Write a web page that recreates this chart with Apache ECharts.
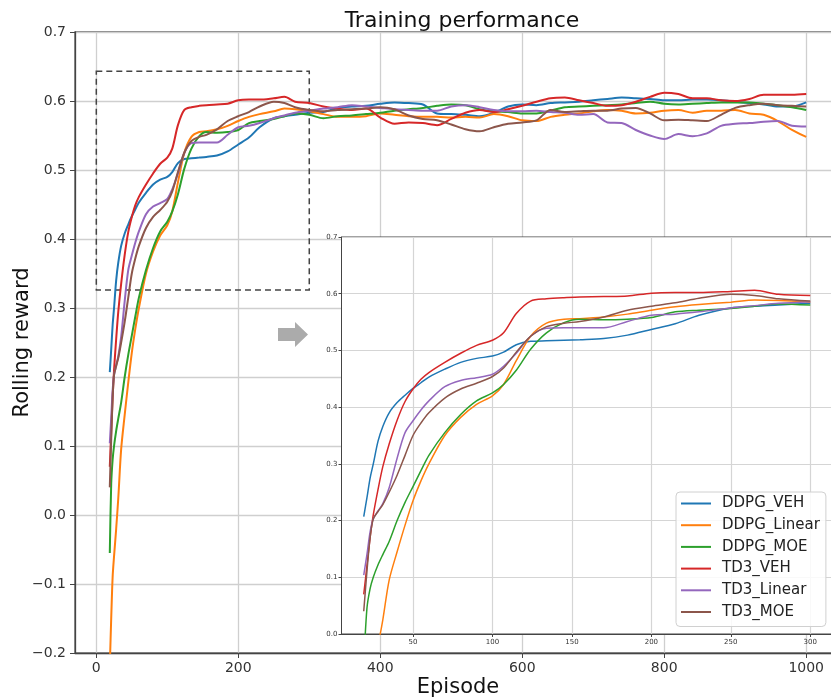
<!DOCTYPE html>
<html>
<head>
<meta charset="utf-8">
<title>Training performance</title>
<script src="https://cdn.jsdelivr.net/npm/echarts@6/dist/echarts.min.js"></script>
<style>
  html, body { margin: 0; padding: 0; background: #fff; }
  #chart { width: 831px; height: 700px; }
</style>
</head>
<body>
<div id="chart"></div>
<script>
const EPISODES = [19, 21, 23, 25, 28, 31, 35, 40, 45, 50,
  55, 60, 70, 80, 90, 100, 107, 115, 124, 134,
  145, 155, 170, 185, 200, 215, 230, 250, 265, 280,
  300, 320, 340, 360, 380, 400, 420, 440, 460, 480,
  500, 520, 540, 560, 580, 600, 620, 640, 660, 680,
  700, 720, 740, 760, 780, 800, 820, 840, 860, 880,
  900, 920, 940, 960, 980, 1000]

const DDPG_VEH = [0.207, 0.24, 0.275, 0.30, 0.34, 0.366, 0.39, 0.408, 0.421, 0.433,
  0.443, 0.453, 0.467, 0.479, 0.486, 0.49, 0.497, 0.51, 0.516, 0.517,
  0.518, 0.519, 0.521, 0.527, 0.537, 0.547, 0.562, 0.575, 0.578, 0.58,
  0.583, 0.584, 0.59, 0.592, 0.593, 0.596, 0.598, 0.597, 0.595, 0.582,
  0.581, 0.58, 0.578, 0.583, 0.592, 0.595, 0.594, 0.597, 0.598, 0.599,
  0.601, 0.603, 0.605, 0.604, 0.603, 0.601, 0.601, 0.602, 0.602, 0.601,
  0.599, 0.597, 0.595, 0.592, 0.592, 0.598]

const DDPG_LINEAR = [-0.22, -0.15, -0.09, -0.06, -0.02, 0.025, 0.095, 0.145, 0.192, 0.235,
  0.27, 0.3, 0.35, 0.382, 0.405, 0.42, 0.44, 0.482, 0.525, 0.548,
  0.555, 0.556, 0.559, 0.564, 0.571, 0.577, 0.581, 0.585, 0.589, 0.588,
  0.585, 0.581, 0.577, 0.577, 0.578, 0.582, 0.58, 0.578, 0.577, 0.577,
  0.576, 0.577, 0.576, 0.581, 0.578, 0.572, 0.571, 0.577, 0.58, 0.582,
  0.585, 0.587, 0.586, 0.582, 0.583, 0.586, 0.587, 0.583, 0.586, 0.586,
  0.587, 0.582, 0.58, 0.571, 0.558, 0.548]

const DDPG_MOE = [-0.055, 0.045, 0.08, 0.1, 0.122, 0.14, 0.163, 0.2, 0.232, 0.26,
  0.288, 0.315, 0.355, 0.387, 0.411, 0.425, 0.44, 0.465, 0.502, 0.531,
  0.549, 0.555, 0.554, 0.555, 0.558, 0.568, 0.571, 0.574, 0.578, 0.582,
  0.58, 0.575, 0.578, 0.579, 0.581, 0.583, 0.586, 0.588, 0.59, 0.593,
  0.595, 0.594, 0.588, 0.585, 0.584, 0.582, 0.582, 0.586, 0.591, 0.592,
  0.593, 0.594, 0.595, 0.597, 0.599, 0.596, 0.595, 0.596, 0.597, 0.598,
  0.598, 0.598, 0.596, 0.594, 0.591, 0.587]

const TD3_VEH = [0.07, 0.12, 0.17, 0.21, 0.255, 0.295, 0.335, 0.377, 0.41, 0.432,
  0.449, 0.461, 0.479, 0.495, 0.509, 0.518, 0.531, 0.565, 0.587, 0.591,
  0.593, 0.594, 0.595, 0.596, 0.601, 0.602, 0.602, 0.604, 0.606, 0.599,
  0.597, 0.592, 0.589, 0.587, 0.589, 0.576, 0.567, 0.569, 0.568, 0.565,
  0.574, 0.583, 0.587, 0.584, 0.588, 0.593, 0.599, 0.604, 0.605, 0.601,
  0.597, 0.593, 0.594, 0.599, 0.606, 0.612, 0.61, 0.604, 0.604, 0.601,
  0.6, 0.603, 0.609, 0.609, 0.609, 0.61]

const TD3_LINEAR = [0.104, 0.14, 0.18, 0.203, 0.217, 0.23, 0.258, 0.31, 0.355, 0.376,
  0.395, 0.411, 0.436, 0.447, 0.452, 0.458, 0.472, 0.495, 0.525, 0.539,
  0.54, 0.54, 0.54, 0.551, 0.562, 0.564, 0.568, 0.575, 0.579, 0.583,
  0.586, 0.589, 0.591, 0.594, 0.592, 0.59, 0.588, 0.587, 0.586, 0.586,
  0.592, 0.594, 0.591, 0.587, 0.585, 0.585, 0.586, 0.584, 0.583, 0.58,
  0.581, 0.569, 0.568, 0.558, 0.55, 0.545, 0.552, 0.549, 0.553, 0.564,
  0.567, 0.568, 0.57, 0.571, 0.564, 0.563]

const TD3_MOE = [0.04, 0.11, 0.17, 0.203, 0.216, 0.228, 0.25, 0.28, 0.315, 0.35,
  0.372, 0.39, 0.416, 0.432, 0.442, 0.454, 0.469, 0.497, 0.525, 0.542,
  0.548, 0.551, 0.559, 0.571, 0.578, 0.584, 0.592, 0.599, 0.597, 0.591,
  0.587, 0.585, 0.587, 0.588, 0.589, 0.591, 0.588, 0.579, 0.574, 0.572,
  0.566, 0.559, 0.556, 0.562, 0.567, 0.569, 0.572, 0.587, 0.584, 0.585,
  0.586, 0.586, 0.589, 0.59, 0.582, 0.572, 0.573, 0.572, 0.571, 0.58,
  0.59, 0.594, 0.596, 0.594, 0.593, 0.592]

const SERIES_NAMES = ['DDPG_VEH', 'DDPG_Linear', 'DDPG_MOE', 'TD3_VEH', 'TD3_Linear', 'TD3_MOE']
const SERIES_VALUES = [DDPG_VEH, DDPG_LINEAR, DDPG_MOE, TD3_VEH, TD3_LINEAR, TD3_MOE]
const COLORS = ['#1f77b4', '#ff7f0e', '#2ca02c', '#d62728', '#9467bd', '#8c564b']

const X_TICKS = [0, 200, 400, 600, 800, 1000]
const INSET_X_TICKS = [50, 100, 150, 200, 250, 300]
const INSET_LAST_EPISODE = 300
// dashed box marking the zoomed region (data units)
const ZOOM_BOX = { x0: 0, x1: 300, yTop: 0.643, yBottom: 0.326 }

const FONT = 'DejaVu Sans'
const fmt = v => v.toFixed(1).replace('-', '\u2212')

var chart = echarts.init(document.getElementById('chart'))

var series = []
SERIES_NAMES.forEach(function (name, i) {
  var pts = EPISODES.map((ep, k) => [ep, SERIES_VALUES[i][k]])
  var main = {
    name: name,
    type: 'line',
    xAxisIndex: 0,
    yAxisIndex: 0,
    data: pts,
    showSymbol: false,
    smooth: 0.3,
    z: 2,
    lineStyle: { width: 2, color: COLORS[i] },
    itemStyle: { color: COLORS[i] }
  }
  if (i === 0) {
    main.markArea = {
      silent: true,
      itemStyle: {
        color: 'rgba(0,0,0,0)',
        borderColor: '#444',
        borderWidth: 1.5,
        borderType: [6, 4]
      },
      data: [[
        { xAxis: ZOOM_BOX.x0, yAxis: ZOOM_BOX.yTop },
        { xAxis: ZOOM_BOX.x1, yAxis: ZOOM_BOX.yBottom }
      ]]
    }
  }
  series.push(main)
  series.push({
    name: name,
    type: 'line',
    xAxisIndex: 1,
    yAxisIndex: 1,
    data: pts.filter(p => p[0] <= INSET_LAST_EPISODE),
    showSymbol: false,
    smooth: 0.3,
    z: 8,
    lineStyle: { width: 1.5, color: COLORS[i] },
    itemStyle: { color: COLORS[i] }
  })
})

var option = {
  animation: false,
  textStyle: { fontFamily: FONT },
  title: {
    text: 'Training performance',
    left: 457,
    textAlign: 'center',
    top: 5,
    textStyle: { fontFamily: FONT, fontSize: 22, fontWeight: 'normal', color: '#111' }
  },
  grid: [
    {
      left: 75, top: 32, width: 766, height: 621, containLabel: false, outerBoundsMode: 'none',
      show: true, borderColor: '#555', borderWidth: 1.3, z: 0
    },
    {
      left: 341.5, top: 237, width: 491, height: 397, containLabel: false, outerBoundsMode: 'none',
      show: true, backgroundColor: '#fff', borderColor: '#444', borderWidth: 1, z: 5
    }
  ],
  xAxis: [
    {
      type: 'value', gridIndex: 0, min: -30, max: 1049,
      name: 'Episode', nameLocation: 'middle', nameGap: 24, nameMoveOverlap: false,
      nameTextStyle: { fontFamily: FONT, fontSize: 21, color: '#111' },
      axisLine: { show: true, onZero: false, lineStyle: { color: '#444', width: 1.3 } },
      axisTick: { show: true, customValues: X_TICKS, length: 5, lineStyle: { color: '#444' } },
      axisLabel: { customValues: X_TICKS, fontSize: 14, color: '#333', margin: 8, formatter: v => String(v) },
      splitLine: { show: true, lineStyle: { color: '#cfcfcf', width: 1.3 } }
    },
    {
      type: 'value', gridIndex: 1, min: 5, max: 314, z: 6,
      axisLine: { show: true, onZero: false, lineStyle: { color: '#444', width: 1 } },
      axisTick: { show: true, customValues: INSET_X_TICKS, length: 3, lineStyle: { color: '#444' } },
      axisLabel: { customValues: INSET_X_TICKS, fontSize: 7, color: '#333', margin: 5, formatter: v => String(v) },
      splitLine: { show: true, lineStyle: { color: '#d5d5d5', width: 1.2 } }
    }
  ],
  yAxis: [
    {
      type: 'value', gridIndex: 0, min: -0.2, max: 0.7, interval: 0.1,
      name: 'Rolling reward', nameLocation: 'middle', nameGap: 42, nameMoveOverlap: false,
      nameTextStyle: { fontFamily: FONT, fontSize: 21, color: '#111' },
      axisLine: { show: true, onZero: false, lineStyle: { color: '#444', width: 1.3 } },
      axisTick: { show: true, length: 5, lineStyle: { color: '#444' } },
      axisLabel: { fontSize: 14, color: '#333', margin: 9, formatter: fmt },
      splitLine: { show: true, lineStyle: { color: '#cfcfcf', width: 1.3 } }
    },
    {
      type: 'value', gridIndex: 1, min: 0, max: 0.7, interval: 0.1, z: 6,
      axisLine: { show: true, onZero: false, lineStyle: { color: '#444', width: 1 } },
      axisTick: { show: true, length: 3, lineStyle: { color: '#444' } },
      axisLabel: { fontSize: 7, color: '#333', margin: 4, formatter: fmt },
      splitLine: { show: true, lineStyle: { color: '#d5d5d5', width: 1.2 } }
    }
  ],
  legend: {
    data: SERIES_NAMES,
    orient: 'vertical',
    left: 676,
    top: 492,
    z: 10,
    icon: 'rect',
    itemWidth: 30,
    itemHeight: 2,
    itemGap: 6.7,
    padding: [4, 6, 7, 5],
    backgroundColor: 'rgba(255,255,255,0.85)',
    borderColor: '#d0d0d0',
    borderWidth: 1,
    borderRadius: 4,
    textStyle: { fontFamily: FONT, fontSize: 15, lineHeight: 15, color: '#222', padding: [0, 0, 0, 6] }
  },
  graphic: [{
    type: 'polygon',
    z: 3,
    shape: { points: [[278, 328], [295, 328], [295, 322], [308, 334.5], [295, 347], [295, 341], [278, 341]] },
    style: { fill: '#ababab' }
  }],
  series: series
}

chart.setOption(option)
</script>
</body>
</html>
